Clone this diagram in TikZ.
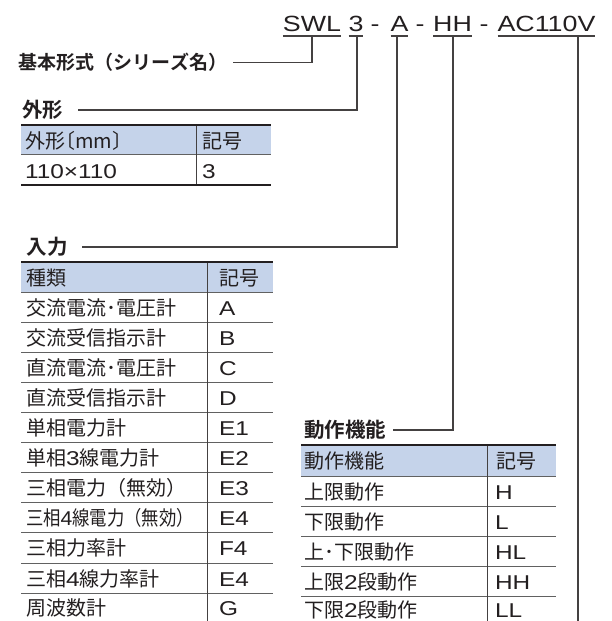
\documentclass[tikz,border=0pt]{standalone}
\usepackage{fontspec}
\usepackage{graphicx}
\setmainfont{Liberation Sans}[FakeStretch=1.22]
\newfontfamily\jp{Noto Sans CJK JP}
\newfontfamily\jph{Noto Sans CJK JP}[RawFeature=+halt]
\newfontfamily\jpb{Noto Sans CJK JP Bold}
\newfontfamily\ttl{Liberation Sans}[FakeStretch=1.22]
\newcommand\J[1]{{\jp #1}}
\definecolor{ink}{HTML}{231F20}
\definecolor{hdr}{HTML}{C5D3EA}
\tikzset{
  lbl/.style={anchor=west,font=\jpb\fontsize{20.5}{24}\selectfont},
  ttlf/.style={anchor=base,font=\ttl\fontsize{22}{24}\selectfont},
  cell/.style={anchor=base west,font=\fontsize{20}{24}\selectfont},
  thickrule/.style={line width=2.2pt,draw=ink},
  rowrule/.style={line width=1pt,draw=black!62},
  colrule/.style={line width=1pt,draw=ink!85},
  conn/.style={line width=1.1pt,draw=ink!85},
  uline/.style={line width=1.1pt,draw=ink!85},
}
\begin{document}
\begin{tikzpicture}[x=1pt,y=-1pt,every node/.style={inner sep=0pt,outer sep=0pt,text=ink}]
\useasboundingbox (0,0) rectangle (611,621);
% ---- title ----
\node[ttlf] (swl) at (312,31) {SWL};
\node[ttlf] (n3) at (356,31) {3};
\node[ttlf] (d1) at (375,31) {-};
\node[ttlf] (na) at (399.5,31) {A};
\node[ttlf] (d2) at (420,31) {-};
\node[ttlf] (nhh) at (452.5,31) {HH};
\node[ttlf] (d3) at (484,31) {-};
\node[ttlf] (nac) at (546.5,31) {AC110V};
\coordinate (ul) at (0,36);
\foreach \n in {swl,n3,na,nhh,nac} \draw[uline] (\n.west |- ul) -- (\n.east |- ul);
\coordinate (tSWL) at (312,36);
\coordinate (t3) at (357,36);
\coordinate (tA) at (397,36);
\coordinate (tHH) at (453,36);
\coordinate (tAC) at (578,36);
\coordinate (bAC) at (578,621);
% ---- labels and connectors ----
\node[lbl,font=\jpb\fontsize{19}{22}\selectfont] (kihon) at (19,62.5) {基本形式（シリーズ名）};
\coordinate (k1) at (233,62);
\draw[conn] (kihon.east -| k1) -| (tSWL);
\node[lbl] (gaikei) at (22,110) {外形};
\coordinate (g1) at (78,110);
\draw[conn] (gaikei.east -| g1) -| (t3);
\node[lbl] (nyu) at (27,247) {入力};
\coordinate (n1) at (82,247);
\draw[conn] (nyu.east -| n1) -| (tA);
\node[lbl] (dosa) at (304,430) {動作機能};
\coordinate (dd) at (393,430);
\draw[conn] (dosa.east -| dd) -| (tHH);
\draw[conn] (tAC) -- (bAC);
% ---- 外形 table ----
\fill[hdr] (21,125) rectangle (271,154);
\draw[rowrule] (21,154) -- (271,154);
\draw[colrule] (196,125) -- (196,185);
\draw[thickrule] (21,125) -- (271,125);
\draw[thickrule] (21,185) -- (271,185);
\node[cell] (gh1) at (25,148) {{\jph 外形〔mm〕}};
\node[cell] (gh2) at (202,148) {\J{記号}};
\node[cell] (gd1) at (25,178) {110×110};
\node[cell] (gd2) at (202,178) {3};
% ---- 入力 table ----
\fill[hdr] (21,262) rectangle (273,292);
\foreach \i in {1,...,11} \draw[rowrule] (21,{262+30.1*\i}) -- (273,{262+30.1*\i});
\draw[colrule] (207,262) -- (207,621);
\draw[thickrule] (21,262) -- (273,262);
\node[cell] (ih1) at (26,285) {\J{種類}};
\node[cell] (ih2) at (219,285) {\J{記号}};
\foreach \a/\b [count=\i] in {
  {\J{交流電流･電圧計}}/A,
  {\J{交流受信指示計}}/B,
  {\J{直流電流･電圧計}}/C,
  {\J{直流受信指示計}}/D,
  {\J{単相電力計}}/E1,
  {\J{単相}3\J{線電力計}}/E2,
  {\J{三相電力（無効）}}/E3,
  {\resizebox{168pt}{\height}{\J{三相}4\J{線電力（無効）}}}/E4,
  {\J{三相力率計}}/F4,
  {\J{三相}4\J{線力率計}}/E4} {
  \node[cell] (ik\i) at (26,{285+30.1*\i}) {\a};
  \node[cell] (ic\i) at (219,{285+30.1*\i}) {\b};
}
\node[cell] (ik11) at (26,615.5) {\J{周波数計}};
\node[cell] (ic11) at (219,615.5) {G};
% ---- 動作機能 table ----
\fill[hdr] (301,445) rectangle (556,476);
\foreach \y in {476,506,536,566,596} \draw[rowrule] (301,\y) -- (556,\y);
\draw[colrule] (487,445) -- (487,621);
\draw[thickrule] (301,445) -- (556,445);
\node[cell] (dh1) at (304,468) {\J{動作機能}};
\node[cell] (dh2) at (496,468) {\J{記号}};
\foreach \a/\b [count=\i] in {
  {\J{上限動作}}/H,
  {\J{下限動作}}/L,
  {\J{上･下限動作}}/HL,
  {\J{上限}2\J{段動作}}/HH} {
  \node[cell] (dk\i) at (304,{469+30*\i}) {\a};
  \node[cell] (dc\i) at (495,{469+30*\i}) {\b};
}
\node[cell] (dk5) at (304,617) {\J{下限}2\J{段動作}};
\node[cell] (dc5) at (495,617) {LL};
\end{tikzpicture}
\end{document}
